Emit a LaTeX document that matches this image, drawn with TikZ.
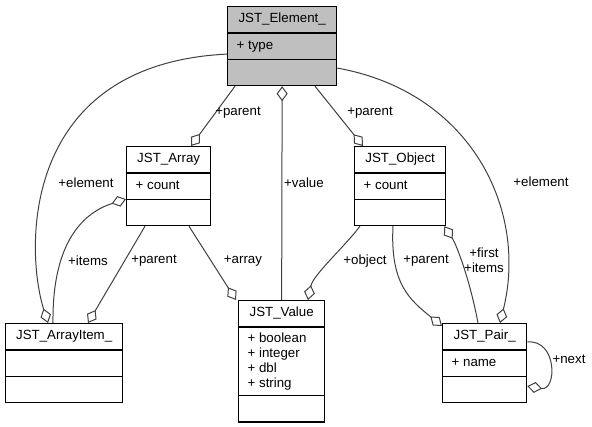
\documentclass[tikz,border=0pt]{standalone}
\usepackage{fontspec}
\setmainfont{Liberation Sans}
\usepackage{tikz}
\usetikzlibrary{positioning,calc,shapes.multipart,arrows.meta}

\begin{document}
\begin{tikzpicture}[x=1pt, y=-1pt,
					font=\fontsize{13.3}{15}\selectfont
					]
					\definecolor{elemgray}{RGB}{191,191,191}
					\definecolor{edgegray}{RGB}{64,64,64}
					\tikzset{
						cls/.style={
							rectangle split,
							rectangle split parts=3,
							rectangle split part align={center,left,left},
							rectangle split empty part height=10.5pt,
							rectangle split empty part depth=4.5pt,
							draw=black,
							line width=1.3pt,
							fill=white,
							anchor=north west,
							inner xsep=9pt,
							inner ysep=5pt,
							align=left
						},
						rel/.style={draw=edgegray,line width=1pt},
						hasa/.style={rel,-{Diamond[open,length=15pt,width=11pt]}},
						ownd/.style={rel,{Diamond[open,length=15pt,width=11pt]}-},
						lbl/.style={inner sep=0pt}
					}
					\useasboundingbox (0,0) rectangle (592,427);
					
					% classes
					\node[cls, minimum width=109pt, fill=elemgray] (elem) at (227,6)
						{\strut JST\_Element\_ \nodepart{two}\strut + type \nodepart{three}};
					\node[cls, minimum width=84pt] (arr) at (126,146)
						{\strut JST\_Array \nodepart{two}\strut + count \nodepart{three}};
					\node[cls, minimum width=91pt] (obj) at (354,146)
						{\strut JST\_Object \nodepart{two}\strut + count \nodepart{three}};
					\node[cls, minimum width=117pt] (item) at (5,323)
						{\strut JST\_ArrayItem\_ \nodepart{two} \nodepart{three}};
					\node[cls, minimum width=86pt] (val) at (238,300)
						{\strut JST\_Value \nodepart{two}+ boolean\\+ integer\\+ dbl\\+ string \nodepart{three}};
					\node[cls, minimum width=84pt] (pair) at (442,323)
						{\strut JST\_Pair\_ \nodepart{two}\strut + name \nodepart{three}};
					
					% relations
					\draw[hasa] ([xshift=8pt]elem.south west) -- ([xshift=65pt]arr.north west);
					\draw[ownd] (elem.south) -- (val.north);
					\draw[hasa] ([xshift=88pt]elem.south west) -- ([xshift=9pt]obj.north west);
					\draw[hasa] ([yshift=-22pt]elem.east) .. controls +(134,24) and +(28,-113) .. ([xshift=58pt]pair.north west);
					\draw[hasa] ([yshift=-8pt]elem.west) .. controls +(-207,10) and +(-23,-73) .. ([xshift=43pt]item.north west);
					\draw[hasa] ([xshift=48pt]item.north west) .. controls +(-1,-83) and +(-41,13) .. ([yshift=-13pt]arr.west);
					\draw[hasa] ([xshift=19pt]arr.south west) -- ([xshift=83pt]item.north west);
					\draw[hasa] ([xshift=63pt]arr.south west) -- ([xshift=-2pt]val.north west);
					\draw[hasa] ([xshift=6pt]obj.south west) .. controls +(-15,20) and +(5,-25) .. ([xshift=70pt]val.north west);
					\draw[hasa] ([xshift=39pt]obj.south west) .. controls +(-3,58) and +(-32,-26) .. ([yshift=-3pt]pair.north west);
					\draw[hasa] ([xshift=36pt]pair.north west) .. controls +(-8,-43) and +(12,18) .. ([xshift=-2pt]obj.south east);
					\draw[hasa] ([yshift=-19pt]pair.north east) .. controls +(30,-3) and +(30,5) .. ([yshift=17pt]pair.south east);
					
					% labels
					\node[lbl] (l-arr-parent) at (238,113) {+parent};
					\node[lbl] (l-value) at (304,183) {+value};
					\node[lbl] (l-obj-parent) at (370,113) {+parent};
					\node[lbl] (l-pair-element) at (541,182) {+element};
					\node[lbl] (l-item-element) at (86,183) {+element};
					\node[lbl] (l-items) at (88,261) {+items};
					\node[lbl] (l-item-parent) at (154,261) {+parent};
					\node[lbl] (l-array) at (243,261) {+array};
					\node[lbl] (l-object) at (365,261) {+object};
					\node[lbl] (l-pair-parent) at (426,261) {+parent};
					\node[lbl, align=center] (l-first) at (484,260) {+first\\+items};
					\node[lbl] (l-next) at (569,359) {+next};
				\end{tikzpicture}
\end{document}
